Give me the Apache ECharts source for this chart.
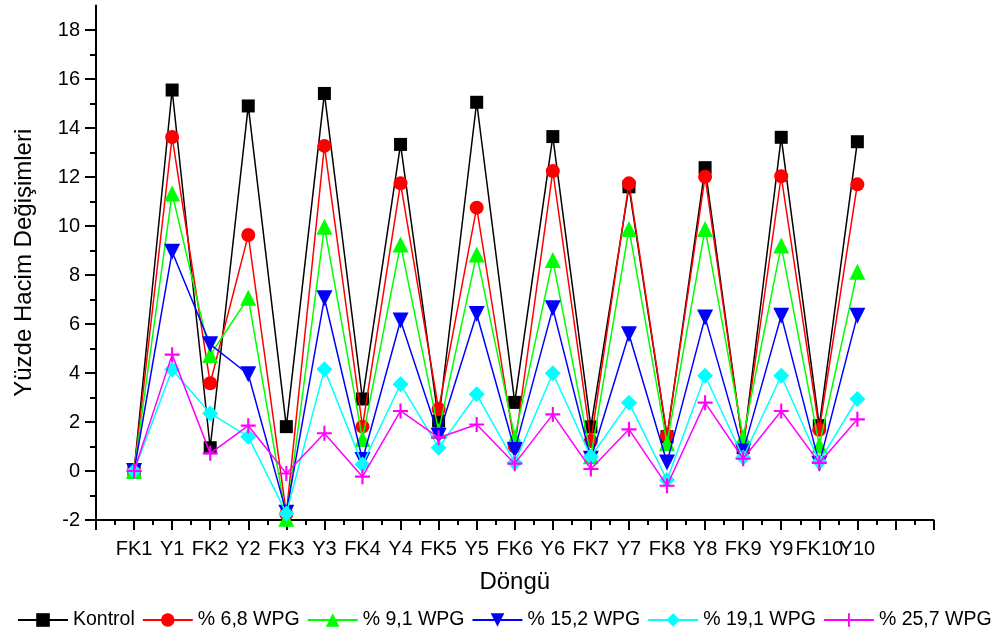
<!DOCTYPE html>
<html><head><meta charset="utf-8">
<script src="https://cdn.jsdelivr.net/npm/echarts@6/dist/echarts.min.js"></script>
<style>html,body{margin:0;padding:0;background:#fff}#c{width:998px;height:640px}</style>
</head><body><div id="c"></div>
<script>
// ---- data ----
const categories = ['FK1','Y1','FK2','Y2','FK3','Y3','FK4','Y4','FK5','Y5','FK6','Y6','FK7','Y7','FK8','Y8','FK9','Y9','FK10','Y10'];
const kontrol = [0, 15.55, 0.95, 14.9, 1.81, 15.41, 2.94, 13.33, 2.04, 15.05, 2.8, 13.65, 1.8, 11.6, 1.4, 12.38, 0.95, 13.62, 1.85, 13.44];
const wpg68 = [0, 13.63, 3.58, 9.63, -1.75, 13.27, 1.81, 11.74, 2.53, 10.75, 1.0, 12.24, 1.22, 11.74, 1.44, 12.01, 1.0, 12.03, 1.68, 11.7];
const wpg91 = [0, 11.33, 4.73, 7.07, -1.95, 9.97, 1.31, 9.25, 1.63, 8.84, 1.38, 8.61, 0.6, 9.88, 1.13, 9.88, 1.38, 9.2, 1.05, 8.13];
const wpg152 = [0, 8.95, 5.17, 3.95, -1.7, 7.05, 0.45, 6.14, 1.44, 6.41, 0.86, 6.64, 0.5, 5.58, 0.35, 6.27, 0.8, 6.34, 0.3, 6.34];
const wpg191 = [0, 4.14, 2.35, 1.4, -1.73, 4.15, 0.27, 3.54, 0.95, 3.13, 0.34, 3.99, 0.58, 2.79, -0.37, 3.89, 0.55, 3.89, 0.38, 2.94];
const wpg257 = [0, 4.75, 0.72, 1.85, -0.1, 1.54, -0.23, 2.45, 1.36, 1.9, 0.3, 2.31, 0.08, 1.7, -0.6, 2.79, 0.5, 2.45, 0.33, 2.11];
const seriesNames = ['Kontrol', '% 6,8 WPG', '% 9,1 WPG', '% 15,2 WPG', '% 19,1 WPG', '% 25,7 WPG'];
const yTickValues = [-2, 0, 2, 4, 6, 8, 10, 12, 14, 16, 18];
const yMinorValues = [-1, 1, 3, 5, 7, 9, 11, 13, 15, 17];
const xAxisTitle = 'Döngü';
const yAxisTitle = 'Yüzde Hacim Değişimleri';

// ---- chart ----
const F = "'Liberation Sans', Arial, sans-serif";
const toPairs = arr => arr.map((v, i) => [i + 1, v]);
const plus = 'path://M6,0H8V6H14V8H8V14H6V8H0V6H6Z';
const styles = [
  {color: '#000000', symbol: 'rect', size: 13},
  {color: '#ff0000', symbol: 'circle', size: 14},
  {color: '#00ff00', symbol: 'triangle', size: 16},
  {color: '#0000ff', symbol: 'triangle', size: 16, rotate: 180},
  {color: '#00ffff', symbol: 'diamond', size: 16},
  {color: '#ff00ff', symbol: plus, size: 15}
];
const dataSets = [kontrol, wpg68, wpg91, wpg152, wpg191, wpg257];

const series = dataSets.map((d, i) => ({
  name: seriesNames[i],
  type: 'line',
  data: toPairs(d),
  symbol: styles[i].symbol,
  symbolSize: styles[i].size,
  symbolRotate: styles[i].rotate || 0,
  showAllSymbol: true,
  lineStyle: {color: styles[i].color, width: 1.5},
  itemStyle: {color: styles[i].color},
  emphasis: {disabled: true},
  z: 2 + i
}));

const axisLineStyle = {color: '#000', width: 2};
const chart = echarts.init(document.getElementById('c'), null, {renderer: 'canvas'});
chart.setOption({
  animation: false,
  backgroundColor: '#fff',
  grid: {left: 96, right: 64.5, top: 5.5, bottom: 120, containLabel: false},
  legend: {
    left: 17, top: 610, padding: 0,
    itemWidth: 50, itemHeight: 17, itemGap: 7,
    textStyle: {fontSize: 19.5, color: '#000', fontFamily: F},
    data: seriesNames
  },
  xAxis: [{
    type: 'value', min: 0, max: 22, interval: 1,
    axisLine: {show: true, onZero: false, lineStyle: axisLineStyle},
    axisTick: {show: true, length: 10, lineStyle: axisLineStyle},
    minorTick: {show: true, splitNumber: 2, length: 5, lineStyle: axisLineStyle},
    splitLine: {show: false},
    axisLabel: {
      formatter: v => categories[Math.round(v) - 1] || '',
      fontSize: 20, color: '#000', fontFamily: F, margin: 19,
      showMinLabel: true, showMaxLabel: true
    },
    name: xAxisTitle, nameLocation: 'middle', nameGap: 50,
    nameTextStyle: {fontSize: 24, color: '#000', fontFamily: F}
  }],
  yAxis: [{
    type: 'value', min: -2, max: 19, position: 'left',
    axisLine: {show: true, onZero: false, lineStyle: axisLineStyle},
    axisTick: {show: true, length: 11, lineStyle: axisLineStyle, customValues: yTickValues},
    splitLine: {show: false},
    axisLabel: {customValues: yTickValues, fontSize: 20, color: '#000', fontFamily: F, margin: 16},
    name: yAxisTitle, nameLocation: 'middle', nameRotate: 90, nameGap: 60,
    nameTextStyle: {fontSize: 24, color: '#000', fontFamily: F}
  }, {
    type: 'value', min: -2, max: 19, position: 'left',
    axisLine: {show: false},
    axisTick: {show: true, length: 6, lineStyle: axisLineStyle, customValues: yMinorValues},
    axisLabel: {show: false},
    splitLine: {show: false}
  }],
  series: series
});
</script>
</body></html>
